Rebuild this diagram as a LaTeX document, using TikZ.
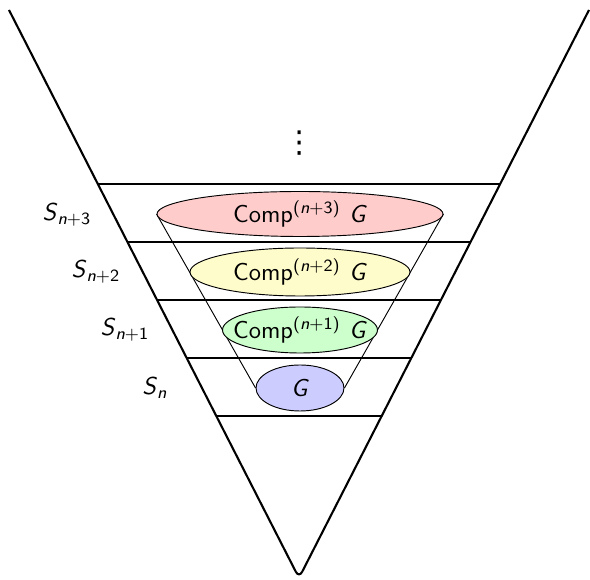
\documentclass[tikz,border=0pt]{standalone}
\usepackage{fontspec}
\newfontfamily\djv{DejaVu Sans}
\usetikzlibrary{shapes.geometric,calc}
\pgfdeclarelayer{bg}
\pgfsetlayers{bg,main}
\def\pxu{0.43pt}
\begin{document}
\begin{tikzpicture}[x=0.43pt,y=-0.43pt, font=\sffamily\fontsize{10.5}{12}\selectfont,
  vline/.style={line width=0.9pt},
  hline/.style={line width=0.9pt},
  cone/.style={line width=0.4pt},
  layer/.style={ellipse, draw, line width=0.4pt, inner sep=0pt},
  lab/.style={inner sep=0pt}]
\useasboundingbox (0,0) rectangle (590,580);
% big funnel
\coordinate (tl) at (9,10);
\coordinate (ap) at (299,578);
\coordinate (tr) at (589,10);
\draw[vline, rounded corners=3pt] (tl) -- (ap) -- (tr);
% horizontal lines
\foreach \i/\yy in {1/184,2/242,3/300,4/358,5/416}{
  \coordinate (L\i) at ($(tl)!{(\yy-10)/568}!(ap)$);
  \coordinate (R\i) at ($(tr)!{(\yy-10)/568}!(ap)$);
  \draw[hline] (L\i) -- (R\i);
}
% ellipses
\node[layer, fill=red!20, minimum width={286*\pxu}, minimum height={45*\pxu}] (e3) at (300,214) {};
\node[layer, fill=yellow!20, minimum width={220*\pxu}, minimum height={48*\pxu}] (e2) at (300,272) {};
\node[layer, fill=green!20, minimum width={155*\pxu}, minimum height={46*\pxu}] (e1) at (300,330) {};
\node[layer, fill=blue!20, minimum width={88*\pxu}, minimum height={46*\pxu}] (e0) at (300,388) {};
\begin{pgfonlayer}{bg}
\draw[cone] (e3.west) -- (e0.west);
\draw[cone] (e3.east) -- (e0.east);
\end{pgfonlayer}
% texts
\node[lab] (t3) at (e3.center) {Comp\textsuperscript{(\textit{n}+3)} \textit{G}};
\node[lab] (t2) at (e2.center) {Comp\textsuperscript{(\textit{n}+2)} \textit{G}};
\node[lab] (t1) at (e1.center) {Comp\textsuperscript{(\textit{n}+1)} \textit{G}};
\node[lab] (t0) at (e0.center) {\textit{G}};
% side labels
\node[lab] (s3) at (67,215) {\textit{S}\textsubscript{\textit{n}+3}};
\node[lab] (s2) at (96,272) {\textit{S}\textsubscript{\textit{n}+2}};
\node[lab] (s1) at (125,330) {\textit{S}\textsubscript{\textit{n}+1}};
\node[lab] (s0) at (155,388) {\textit{S}\textsubscript{\textit{n}}};
% dots
\node[lab] (dots) at (300,143) {\djv\fontsize{13}{13}\selectfont ⋮};
\end{tikzpicture}
\end{document}
